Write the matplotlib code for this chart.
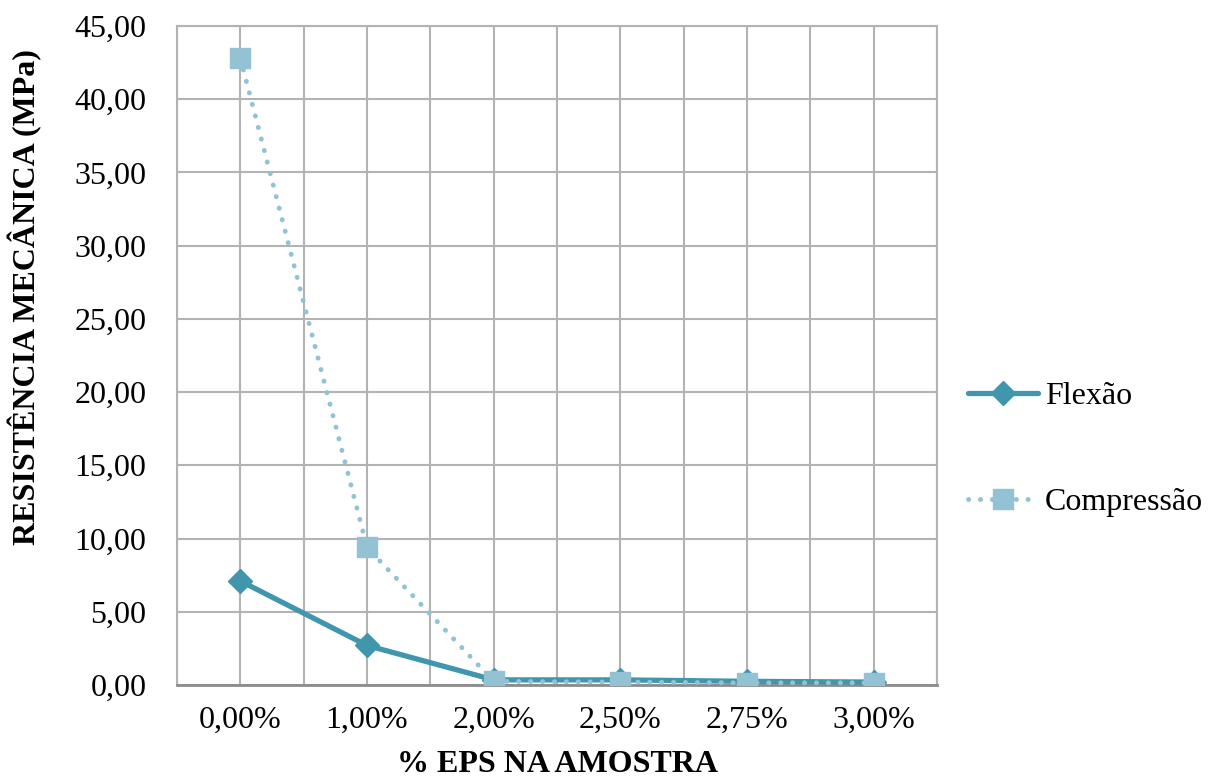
import matplotlib
matplotlib.use("Agg")
import matplotlib.pyplot as plt
from matplotlib.ticker import MultipleLocator, FuncFormatter

categorias = ["0,00%", "1,00%", "2,00%", "2,50%", "2,75%", "3,00%"]
flexao = [7.10, 2.70, 0.35, 0.35, 0.25, 0.20]
compressao = [42.80, 9.40, 0.25, 0.20, 0.15, 0.15]

plt.rcParams['font.family'] = ['Liberation Serif', 'DejaVu Serif']

fig = plt.figure(figsize=(12.16, 7.8), dpi=100)
ax = fig.add_axes([0.1456, 0.1218, 0.625, 0.8449])

x = range(len(categorias))
ax.plot(x, flexao, color="#3f96ad", lw=3.8, marker="D", ms=12,
        solid_capstyle="round", label="Flexão", zorder=3)
ax.plot(x, compressao, color="#92c2d3", lw=3.5, ls=(0, (0.05, 2.4)),
        dash_capstyle="round", marker="s", ms=15, label="Compressão", zorder=4)

ax.set_xlim(-0.5, len(categorias) - 0.5)
ax.set_ylim(0, 45)
ax.yaxis.set_major_locator(MultipleLocator(5))
ax.yaxis.set_major_formatter(FuncFormatter(lambda v, p: f"{v:.2f}".replace(".", ",")))
ax.set_xticks(list(x))
ax.set_xticklabels(categorias)
ax.set_xticks([i + 0.5 for i in range(-1, len(categorias))], minor=True)

ax.grid(True, which="both", color="#b3b3b3", lw=1.5)
ax.set_axisbelow(True)
ax.tick_params(which="both", length=0, labelsize=23)
ax.tick_params(axis="x", pad=15)
ax.tick_params(axis="y", pad=22)
for side in ["top", "right", "left"]:
    ax.spines[side].set_color("#b3b3b3")
    ax.spines[side].set_linewidth(1.5)
ax.spines["bottom"].set_color("#8c8c8c")
ax.spines["bottom"].set_linewidth(2)

ax.set_xlabel("% EPS NA AMOSTRA", fontsize=23, fontweight="bold", labelpad=11)
ax.set_ylabel("RESISTÊNCIA MECÂNICA (MPa)", fontsize=23, fontweight="bold")
ax.yaxis.set_label_coords(-0.178, 0.589)

ax.legend(loc="center left", bbox_to_anchor=(1.041, 0.358), frameon=False,
          borderaxespad=0, borderpad=0,
          fontsize=23, labelspacing=2.4, handlelength=2.2, handletextpad=0.2)

fig.savefig("out.png", dpi=100)
